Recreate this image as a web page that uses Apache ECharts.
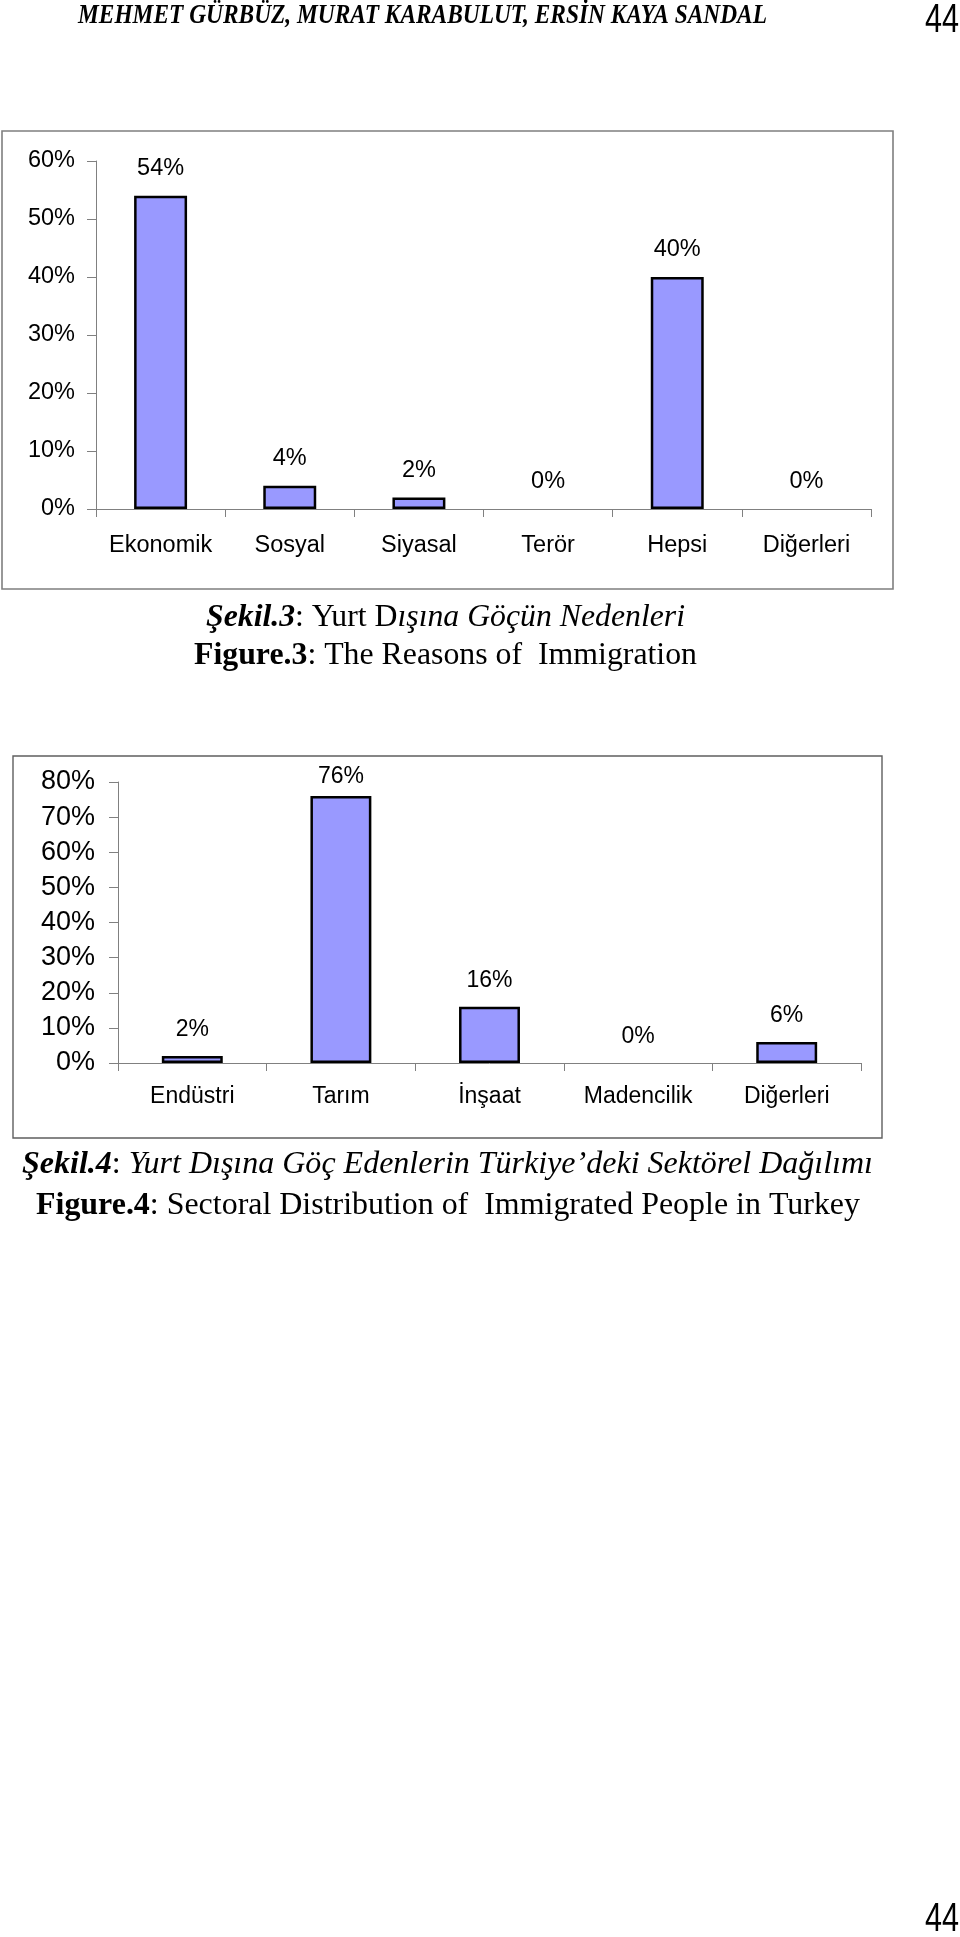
<!DOCTYPE html>
<html>
<head>
<meta charset="utf-8">
<script src="https://cdn.jsdelivr.net/npm/echarts@6/dist/echarts.min.js"></script>
<style>
html,body{margin:0;padding:0;background:#fff;}
#c{width:960px;height:1937px;}
</style>
</head>
<body>
<div id="c"></div>
<script>
// ---- data ----
const reasonsCategories = ['Ekonomik', 'Sosyal', 'Siyasal', 'Terör', 'Hepsi', 'Diğerleri'];
const reasonsValues = [54, 4, 2, 0, 40, 0];
const reasonsAxis = { min: 0, max: 60, interval: 10 };

const sectorCategories = ['Endüstri', 'Tarım', 'İnşaat', 'Madencilik', 'Diğerleri'];
const sectorValues = [2, 76, 16, 0, 6];
const sectorAxis = { min: 0, max: 80, interval: 10 };

const headerText = 'MEHMET GÜRBÜZ, MURAT KARABULUT, ERSİN KAYA SANDAL';
const pageNumber = '44';

// ---- helpers ----
const mctx = document.createElement('canvas').getContext('2d');
function segWidth(segs) {
  let w = 0;
  segs.forEach(s => {
    mctx.font = (s.style || 'normal') + ' ' + (s.weight || 'normal') + ' ' + s.size + 'px ' + s.family;
    w += mctx.measureText(s.text).width;
  });
  return w;
}
function fittedText(segs, left, right, cy) {
  const w = segWidth(segs);
  const sx = (right - left) / w;
  const rich = {};
  let str = '';
  segs.forEach((s, i) => {
    const k = 's' + i;
    rich[k] = {
      fontFamily: s.family, fontSize: s.size, fontStyle: s.style || 'normal',
      fontWeight: s.weight || 'normal', fill: '#000', color: '#000'
    };
    str += '{' + k + '|' + s.text + '}';
  });
  return {
    type: 'text', x: left, y: cy, scaleX: sx, originX: 0, originY: 0, silent: true,
    style: {
      text: str, rich: rich, x: 0, y: 0, fill: '#000',
      align: 'left', verticalAlign: 'middle', textAlign: 'left', textVerticalAlign: 'middle'
    }
  };
}
const SERIF = '"Liberation Serif", "Times New Roman", serif';
const SANS = '"Liberation Sans", Arial, sans-serif';
const captionSize = 32;

function buildGraphics() {
  return [
    // chart frames
    { type: 'rect', shape: { x: 2, y: 131, width: 891, height: 458 }, silent: true, z: -1,
      style: { fill: '#fff', stroke: '#7f7f7f', lineWidth: 1.6 } },
    { type: 'rect', shape: { x: 13, y: 756, width: 869, height: 382 }, silent: true, z: -1,
      style: { fill: '#fff', stroke: '#5f5f5f', lineWidth: 1.4 } },
    // header
    fittedText([{ text: headerText, family: SERIF, size: 27, style: 'italic', weight: 'bold' }], 78, 767, 16),
    fittedText([{ text: pageNumber, family: SANS, size: 40 }], 925, 959, 21),
    fittedText([{ text: pageNumber, family: SANS, size: 40 }], 925, 959, 1920),
    // captions figure 3
    fittedText([
      { text: 'Şekil.3', family: SERIF, size: captionSize, style: 'italic', weight: 'bold' },
      { text: ': Yurt D', family: SERIF, size: captionSize },
      { text: 'ışına Göçün Nedenleri', family: SERIF, size: captionSize, style: 'italic' }
    ], 206, 685, 618),
    fittedText([
      { text: 'Figure.3', family: SERIF, size: captionSize, weight: 'bold' },
      { text: ': The Reasons of  Immigration', family: SERIF, size: captionSize }
    ], 194, 697, 656),
    // captions figure 4
    fittedText([
      { text: 'Şekil.4', family: SERIF, size: captionSize, style: 'italic', weight: 'bold' },
      { text: ': ', family: SERIF, size: captionSize },
      { text: 'Yurt Dışına Göç Edenlerin Türkiye’deki Sektörel Dağılımı', family: SERIF, size: captionSize, style: 'italic' }
    ], 22, 873, 1165),
    fittedText([
      { text: 'Figure.4', family: SERIF, size: captionSize, weight: 'bold' },
      { text: ': Sectoral Distribution of  Immigrated People in Turkey', family: SERIF, size: captionSize }
    ], 36, 860, 1206)
  ];
}

// labels of bars reaching near the top of the plot are kept inside it (as the original does)
function barData(vals, ax, plotHeight) {
  const pxPerUnit = plotHeight / (ax.max - ax.min);
  return vals.map(v => {
    const item = { value: v };
    if (v === 0) item.itemStyle = { borderWidth: 0 };
    if ((ax.max - v) * pxPerUnit < 30) item.label = { distance: 8 };
    return item;
  });
}

const axisGray = '#808080';
function xAxisCfg(cats, gi, margin, fs) {
  return {
    type: 'category', gridIndex: gi, data: cats,
    axisLine: { show: true, lineStyle: { color: axisGray, width: 1 } },
    axisTick: { show: true, length: 8, lineStyle: { color: axisGray, width: 1 } },
    axisLabel: { interval: 0, margin: margin, fontSize: fs, fontFamily: SANS, color: '#000' },
    splitLine: { show: false }
  };
}
function yAxisCfg(ax, gi, margin, fs) {
  return {
    type: 'value', gridIndex: gi, min: ax.min, max: ax.max, interval: ax.interval,
    axisLine: { show: true, lineStyle: { color: axisGray, width: 1 } },
    axisTick: { show: true, length: 9, lineStyle: { color: axisGray, width: 1 } },
    axisLabel: { formatter: '{value}%', margin: margin, fontSize: fs, fontFamily: SANS, color: '#000' },
    splitLine: { show: false }
  };
}
function barSeries(vals, ax, plotHeight, gi, fs) {
  return {
    type: 'bar', xAxisIndex: gi, yAxisIndex: gi, data: barData(vals, ax, plotHeight), barWidth: '41%',
    itemStyle: { color: '#9999ff', borderColor: '#000', borderWidth: 2.5 },
    label: { show: true, position: 'top', distance: 15, formatter: '{c}%',
      fontSize: fs, fontFamily: SANS, color: '#000' }
  };
}

const grid1 = { left: 96, top: 161, width: 775, height: 348 };
const grid2 = { left: 118, top: 782, width: 743, height: 281 };

const chart = echarts.init(document.getElementById('c'), null, { renderer: 'canvas' });
chart.setOption({
  animation: false,
  backgroundColor: '#fff',
  grid: [grid1, grid2],
  xAxis: [xAxisCfg(reasonsCategories, 0, 25, 23.5), xAxisCfg(sectorCategories, 1, 22, 23)],
  yAxis: [yAxisCfg(reasonsAxis, 0, 21, 23.5), yAxisCfg(sectorAxis, 1, 23, 27)],
  series: [
    barSeries(reasonsValues, reasonsAxis, grid1.height, 0, 23.5),
    barSeries(sectorValues, sectorAxis, grid2.height, 1, 23)
  ],
  graphic: { elements: buildGraphics() }
});

// re-fit the texts once the system fonts are surely available
if (document.fonts && document.fonts.load) {
  Promise.all([
    document.fonts.load('italic bold 27px "Liberation Serif"'),
    document.fonts.load('italic 32px "Liberation Serif"'),
    document.fonts.load('bold 32px "Liberation Serif"'),
    document.fonts.load('32px "Liberation Serif"'),
    document.fonts.load('40px "Liberation Sans"')
  ]).then(() => {
    chart.setOption({ graphic: { elements: buildGraphics() } }, { replaceMerge: ['graphic'] });
  }).catch(() => {});
}
</script>
</body>
</html>
